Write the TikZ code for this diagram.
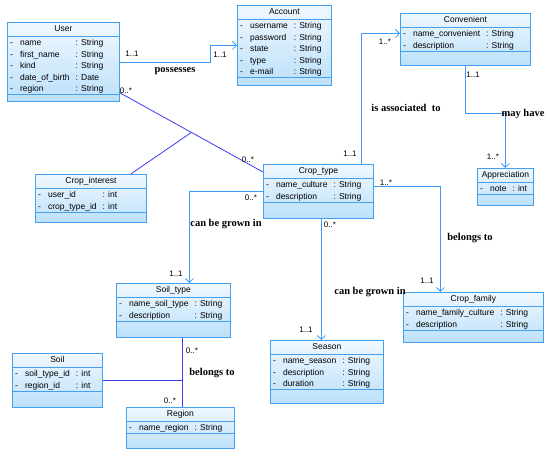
\documentclass[tikz,border=0pt]{standalone}
\usepackage{fontspec}
\setmainfont{Liberation Serif}
\setsansfont{Liberation Sans}
\usetikzlibrary{arrows.meta,calc}
\definecolor{boxline}{RGB}{70,160,240}
\definecolor{boxtop}{RGB}{240,248,255}
\definecolor{boxbottom}{RGB}{188,224,250}
\definecolor{navline}{RGB}{60,155,250}
\definecolor{assocline}{RGB}{60,60,245}
\tikzset{
  classbox/.style={draw=boxline, line width=0.8pt, top color=boxtop, bottom color=boxbottom, inner sep=0pt},
  classtitle/.style={font=\sffamily\fontsize{8.5}{10}\selectfont, inner sep=0pt, text height=6.5pt, text depth=2pt},
  classattrs/.style={font=\sffamily\fontsize{8.5}{11.5}\selectfont, inner xsep=3pt, inner ysep=1pt, align=left},
  classrule/.style={draw=boxline, line width=0.8pt},
  nav/.style={draw=navline, line width=0.8pt, -{Straight Barb[length=4pt,width=8pt]}},
  assoc/.style={draw=assocline, line width=0.8pt},
  mult/.style={font=\sffamily\fontsize{8}{9}\selectfont, inner sep=0pt},
  rolename/.style={font=\bfseries\fontsize{10.5}{12}\selectfont, inner sep=0pt}
}
% name, top left corner, width, height, title, rows, attributes
\newcommand{\umlclass}[7]{%
  \node[classbox, anchor=north west, minimum width=#3, minimum height=#4] (#1) at #2 {};
  \node[classtitle] (#1-title) at ([yshift=-7pt]#1.north) {#5};
  \draw[classrule] ([yshift=-14pt]#1.north west) -- ([yshift=-14pt]#1.north east);
  \node[classattrs, anchor=north west] (#1-attrs) at ([yshift=-14.5pt]#1.north west) {#7};
  \pgfmathsetmacro\attrbottom{15+11.5*#6}
  \draw[classrule] ([yshift=-\attrbottom pt]#1.north west) -- ([yshift=-\attrbottom pt]#1.north east);
}
\newenvironment{attrlist}{\begin{tabular}{@{}l@{\hspace{7pt}}l@{\hspace{6pt}}l@{}}}{\end{tabular}}

\begin{document}
\begin{tikzpicture}[x=1pt, y=-1pt]
\useasboundingbox (0,0) rectangle (550,456);

% classes
\umlclass{user}{(7,22)}{112pt}{79pt}{User}{5}{\begin{attrlist}
- & name & : String\\
- & first\_name & : String\\
- & kind & : String\\
- & date\_of\_birth & : Date\\
- & region & : String
\end{attrlist}}
\umlclass{account}{(237,5)}{94pt}{80pt}{Account}{5}{\begin{attrlist}
- & username & : String\\
- & password & : String\\
- & state & : String\\
- & type & : String\\
- & e-mail & : String
\end{attrlist}}
\umlclass{convenient}{(400,13)}{130pt}{52pt}{Convenient}{2}{\begin{attrlist}
- & name\_convenient & : String\\
- & description & : String
\end{attrlist}}
\umlclass{cropinterest}{(35,174)}{111pt}{48pt}{Crop\_interest}{2}{\begin{attrlist}
- & user\_id & : int\\
- & crop\_type\_id & : int
\end{attrlist}}
\umlclass{croptype}{(263,164)}{110pt}{54pt}{Crop\_type}{2}{\begin{attrlist}
- & name\_culture & : String\\
- & description & : String
\end{attrlist}}
\umlclass{appreciation}{(477,168)}{56pt}{37pt}{Appreciation}{1}{\begin{attrlist}
- & note & : int
\end{attrlist}}
\umlclass{soiltype}{(116,283)}{114pt}{54pt}{Soil\_type}{2}{\begin{attrlist}
- & name\_soil\_type & : String\\
- & description & : String
\end{attrlist}}
\umlclass{season}{(270,340)}{113pt}{63pt}{Season}{3}{\begin{attrlist}
- & name\_season & : String\\
- & description & : String\\
- & duration & : String
\end{attrlist}}
\umlclass{cropfamily}{(403,292)}{140pt}{50pt}{Crop\_family}{2}{\begin{attrlist}
- & name\_family\_culture & : String\\
- & description & : String
\end{attrlist}}
\umlclass{soil}{(12,353)}{90pt}{54pt}{Soil}{2}{\begin{attrlist}
- & soil\_type\_id & : int\\
- & region\_id & : int
\end{attrlist}}
\umlclass{region}{(126,407)}{108pt}{41pt}{Region}{1}{\begin{attrlist}
- & name\_region & : String
\end{attrlist}}

% navigable associations
\draw[nav] (user.east) -- ++(91,0) |- (account.west);
\draw[nav] ([xshift=-12pt]croptype.north east) |- ([yshift=6pt]convenient.west);
\draw[nav] (convenient.south) -- ++(0,48) -| (appreciation.north);
\draw[nav] ([yshift=5pt]croptype.east) -| ([xshift=-33pt]cropfamily.north);
\draw[nav] (croptype.west) -| ([xshift=16pt]soiltype.north);
\draw[nav] ([xshift=3pt]croptype.south) -- ([xshift=3pt]croptype.south |- season.north);

% association classes
\coordinate (ua) at ([yshift=9pt]user.south east);
\coordinate (ta) at ([yshift=-8pt]croptype.north west);
\draw[assoc] (ua) -- (ta);
\coordinate (uamid) at ($(ua)!0.5!(ta)$);
\draw[assoc] ([xshift=-16pt]cropinterest.north east) -- (uamid);
\coordinate (stbot) at ([xshift=9pt]soiltype.south);
\draw[assoc] (stbot) -- (stbot |- region.north);
\draw[assoc] (soil.east) -- (soil.east -| stbot);

% multiplicities
\node[mult] (m1) at (132,54) {1..1};
\node[mult] (m2) at (220,55) {1..1};
\node[mult] (m3) at (126,91) {0..*};
\node[mult] (m4) at (248,160) {0..*};
\node[mult] (m5) at (350,154) {1..1};
\node[mult] (m6) at (385,42) {1..*};
\node[mult] (m7) at (473,75) {1..1};
\node[mult] (m8) at (493,157) {1..*};
\node[mult] (m9) at (386,183) {1..*};
\node[mult] (m10) at (427,281) {1..1};
\node[mult] (m11) at (251,198) {0..*};
\node[mult] (m12) at (176,274) {1..1};
\node[mult] (m13) at (330,225) {0..*};
\node[mult] (m14) at (306,330) {1..1};
\node[mult] (m15) at (192,351) {0..*};
\node[mult] (m16) at (170,401) {0..*};

% association names
\node[rolename] (possesses) at (175,71) {possesses};
\node[rolename] (isassoc) at (406,108) {is associated~ to};
\node[rolename] (mayhave) at (523,114) {may have};
\node[rolename] (belongs1) at (470,238) {belongs to};
\node[rolename] (grown1) at (226,224) {can be grown in};
\node[rolename] (grown2) at (370,292) {can be grown in};
\node[rolename] (belongs2) at (212,373) {belongs to};
\end{tikzpicture}
\end{document}
